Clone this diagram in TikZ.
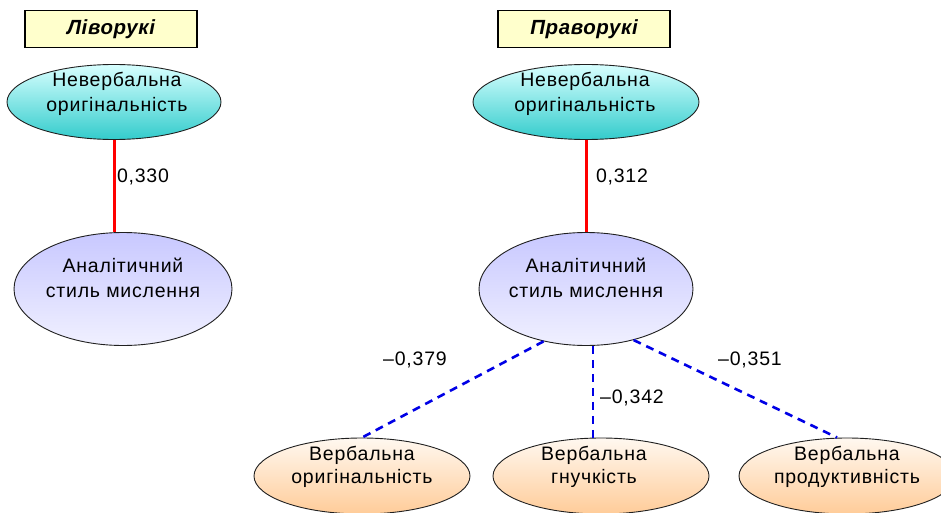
\documentclass[tikz,border=0pt]{standalone}
\usepackage{fontspec}
\setmainfont[LetterSpace=4]{Liberation Sans}
\newfontfamily\hdrfont[LetterSpace=3]{Liberation Sans}
\usetikzlibrary{shapes.geometric}
\definecolor{hdrfill}{HTML}{FFFFCC}
\definecolor{cyantop}{HTML}{D8FFFF}
\definecolor{cyanbot}{HTML}{33CCCC}
\definecolor{lavtop}{HTML}{C8C8FF}
\definecolor{lavbot}{HTML}{F0F0FF}
\definecolor{peachtop}{HTML}{FFF8F0}
\definecolor{peachbot}{HTML}{FFCC99}
\definecolor{edgeblue}{HTML}{0000E6}
\definecolor{ellborder}{HTML}{202020}
\begin{document}
\begin{tikzpicture}[x=1pt,y=-1pt,
  hdr/.style={draw=black, line width=1.6pt, fill=hdrfill, minimum width=172, minimum height=37, inner sep=0,
    font=\hdrfont\fontsize{20.5}{22}\selectfont\bfseries\itshape},
  ellbase/.style={ellipse, draw=ellborder, line width=0.9pt, inner sep=0},
  topell/.style={ellbase, top color=cyantop, bottom color=cyanbot, minimum height=75},
  midell/.style={ellbase, top color=lavtop, bottom color=lavbot, minimum height=113},
  botell/.style={ellbase, top color=peachtop, bottom color=peachbot, minimum width=216, minimum height=76},
  txt/.style={align=center, inner sep=0, font=\fontsize{19.5}{25}\selectfont},
  btxt/.style={align=center, inner sep=0, font=\fontsize{19.5}{23}\selectfont},
  lbl/.style={inner sep=0, font=\fontsize{19.5}{21}\selectfont},
  redline/.style={draw=red, line width=3pt},
  blueline/.style={draw=edgeblue, line width=2.6pt, dash pattern=on 8pt off 6pt}
]
\useasboundingbox (0,0) rectangle (941,513);
\fill[white] (0,0) rectangle (941,513);

% headers
\node[hdr] (hl) at (111,29) {Ліворукі};
\node[hdr] (hr) at (584,29) {Праворукі};

% ellipses
\node[topell, minimum width=214] (nl) at (114,102) {};
\node[topell, minimum width=226] (nr) at (586,102) {};
\node[midell, minimum width=218] (al) at (123,289) {};
\node[midell, minimum width=214] (ar) at (586,289) {};
\node[botell] (vo) at (362,476) {};
\node[botell] (vg) at (601,476) {};
\node[botell] (vp) at (847,476) {};

% texts in ellipses
\node[txt] (tnl) at (117,94) {Невербальна\\оригінальність};
\node[txt] (tnr) at (585,94) {Невербальна\\оригінальність};
\node[txt] (tal) at (123,278) {Аналітичний\\стиль мислення};
\node[txt] (tar) at (586,278) {Аналітичний\\стиль мислення};
\node[btxt] (tvo) at (362,467) {Вербальна\\оригінальність};
\node[btxt] (tvg) at (594,467) {Вербальна\\гнучкість};
\node[btxt] (tvp) at (847,467) {Вербальна\\продуктивність};

% connectors
\draw[redline] (nl.south) -- (nl.south |- al.north);
\draw[redline] (nr.south) -- (nr.south |- ar.north);
\draw[blueline] (ar.231) -- (vo.north);
\draw[blueline] ([xshift=7pt]ar.south) -- ([xshift=7pt]ar.south |- vg.north);
\draw[blueline] (ar.313) -- ([xshift=-10pt]vp.north);

% labels
\node[lbl] (l1) at (143,177) {0,330};
\node[lbl] (l2) at (622,177) {0,312};
\node[lbl] (l3) at (415,360) {–0,379};
\node[lbl] (l4) at (632,398) {–0,342};
\node[lbl] (l5) at (750,360) {–0,351};
\end{tikzpicture}
\end{document}
